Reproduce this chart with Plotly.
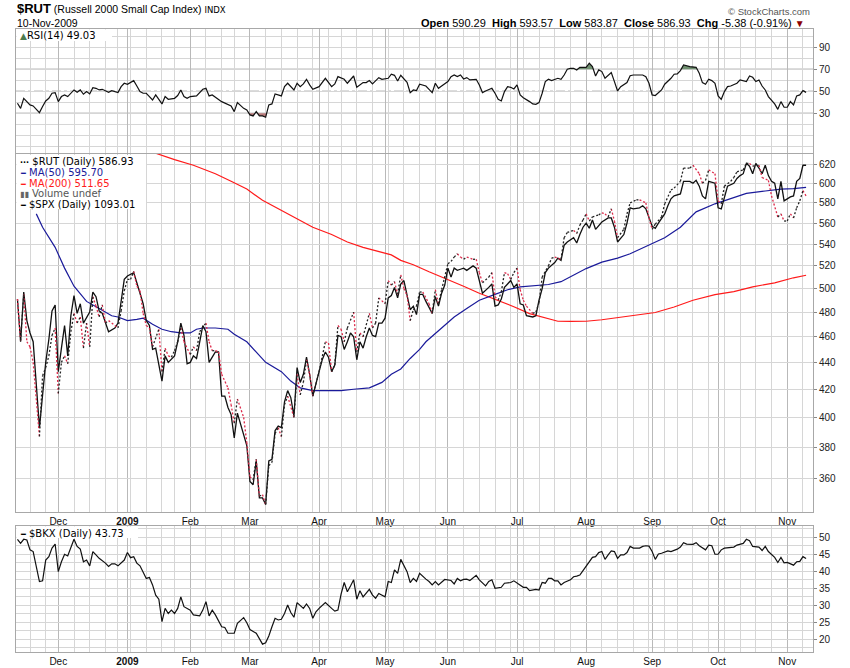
import math
import numpy as np
import pandas as pd
import plotly.graph_objects as go

# ---------------- calendar (trading days) ----------------
HOLIDAYS = ["2008-11-27", "2008-12-25", "2009-01-01", "2009-01-19", "2009-02-16",
            "2009-04-10", "2009-05-25", "2009-07-03", "2009-09-07"]
DAYS = pd.bdate_range("2008-11-11", "2009-11-10")
DAYS = DAYS[~DAYS.isin(pd.to_datetime(HOLIDAYS))]
N = len(DAYS)

MONTH_LABELS = ["Dec", "<b>2009</b>", "Feb", "Mar", "Apr", "May", "Jun", "Jul", "Aug", "Sep", "Oct", "Nov"]

# ---------------- header values ----------------
OPEN, HIGH, LOW, CLOSE, CHG, CHG_PCT = 590.29, 593.57, 583.87, 586.93, -5.38, -0.91
SPX_LAST = 1093.01

# ---------------- data (trading-day number, value) ----------------
RUT_DAY = [0,1,2,3,4,5,7,8,9,10,11,12,13,14,15,16,17,18,19,20,21,22,23,24,25,26,27,28,29,31,32,33,34,35,36,37,38,39,40,41,42,43,45,46,47,48,49,50,51,52,53,55,56,57,58,60,61,62,63,64,65,67,68,69,70,72,73,74,75,76,77,78,79,80,81,82,83,84,85,86,88,89,90,91,92,93,94,95,96,98,99,100,101,102,103,104,105,107,108,109,110,112,113,114,115,117,118,119,120,121,122,123,124,125,126,127,128,129,131,132,133,134,135,137,138,139,140,141,142,143,145,146,147,148,150,151,152,153,154,155,156,157,158,159,160,161,162,164,165,166,167,169,170,171,173,174,175,177,178,179,180,181,182,183,185,186,187,188,189,190,191,193,194,195,197,198,200,201,202,203,205,206,208,209,211,212,214,215,217,218,219,220,222,223,224,225,227,228,229,231,232,233,234,236,237,239,240,242,243,244,245,246,247,248,249,250,251]
RUT = [491,457,495,456,452,440,387,430,436,445,461,467,417,440,445,439,464,479,471,476,451,471,452,493,485,476,486,471,473,469,467,481,498,508,508,515,502,498,479,469,467,452,466,433,451,445,444,449,456,467,456,446,452,449,464,471,456,449,449,448,431,421,409,396,413,400,383,361,359,372,349,350,344,368,370,389,393,387,409,415,400,431,416,425,442,431,415,424,433,456,455,433,438,469,466,456,467,480,448,463,460,479,467,471,492,487,507,503,506,495,512,500,494,473,482,485,497,497,487,479,499,487,499,522,524,528,531,528,526,528,526,526,514,505,510,514,493,490,497,514,513,508,514,518,499,490,485,479,480,488,510,520,527,528,526,546,551,553,550,558,563,569,562,566,568,570,569,566,574,562,546,554,569,580,583,583,580,565,554,559,566,579,593,595,602,616,616,619,610,600,603,614,610,582,579,597,602,606,612,614,621,621,618,619,606,603,587,566,569,562,562,569,565,575,582,592.31,586.93]

SPX_DAY = [0,1,2,3,4,5,7,9,10,11,12,13,14,15,16,17,18,19,20,21,23,24,25,26,27,29,31,32,33,34,35,37,38,39,40,41,42,43,44,46,47,48,50,51,52,53,54,55,56,57,59,60,61,62,63,64,65,66,67,68,69,70,71,72,73,74,75,76,77,78,79,80,81,82,83,84,85,86,87,88,89,90,91,92,93,94,95,96,97,98,99,100,101,102,103,104,105,106,107,108,109,110,111,112,113,114,115,116,117,118,119,120,121,122,123,124,125,126,127,128,129,130,132,133,134,135,136,137,138,139,140,141,142,143,144,145,146,147,148,150,151,152,153,154,155,156,157,158,159,160,161,162,164,165,166,167,168,169,171,172,173,174,175,177,178,179,180,181,182,183,184,186,187,188,189,190,191,193,194,195,196,198,199,200,202,203,204,205,206,207,208,209,211,212,214,215,216,217,218,219,220,222,223,224,225,226,228,229,230,231,232,233,234,235,236,237,238,239,240,241,242,243,244,245,246,247,248,249,250,251]
SPX = [491,456,497,473,463,456,393,440,458,481,486,433,451,469,445,477,494,479,487,471,480,497,493,481,479,464,467,471,489,508,511,514,505,496,487,473,469,450,451,426,445,440,445,456,471,461,439,440,445,443,469,464,440,444,448,448,415,415,407,402,386,403,395,388,381,358,356,371,348,348,344,371,372,391,394,393,411,419,414,401,436,425,431,444,431,415,425,433,442,448,444,433,438,461,460,450,456,463,460,442,456,451,460,467,461,460,471,471,475,492,494,501,492,504,507,494,482,485,478,495,495,489,479,493,485,496,503,518,510,518,516,517,518,516,518,520,518,507,496,501,504,485,486,491,501,504,507,501,504,487,486,477,476,477,490,500,514,518,523,527,525,539,542,546,541,549,556,560,555,563,554,561,563,565,565,556,542,549,560,575,574,575,577,574,557,555,560,565,569,577,584,587,589,602,602,600,603,597,587,584,602,600,575,574,587,597,600,605,608,610,621,618,610,621,616,610,619,608,602,600,584,602,582,584,586,587,602,605,619,619]

MA50_DAY = [6,8,12,15,18,22,26,30,32,35,38,40,43,46,49,52,55,57,59,63,67,69,73,76,79,84,87,90,94,99,103,107,112,116,119,122,125,128,130,135,139,143,147,152,156,160,164,169,173,177,181,186,191,195,200,206,211,216,222,227,232,238,243,247,251]
MA50 = [569,556,537,518,502,489,483,477,476,473,474,475,470,466,464,463,463,466,467,467,466,462,456,448,440,433,426,421,419,419,419,420,421,425,431,435,443,450,456,467,476,483,490,495,499,501.5,502.3,503.5,506,512,517.6,523.4,527,531,538,546,556,571,579,584,589.6,592,594,594.5,595.70]

MA200_DAY = [44,50,56,63,68,73,78,84,89,94,100,105,110,116,119,122,126,131,137,142,147,153,158,163,169,172,176,181,186,191,196,203,209,215,222,228,234,241,247,251]
MA200 = [632,625,619,610,602,594,582.5,572.6,564,556,549,542,537,532.4,530,525,521,514.7,508,502,496,490,484.5,478.8,474.5,472.5,472.3,472.5,473.7,475.5,477,479.7,484.3,490,494.7,497.3,501.5,505,509.4,511.65]

RSI_DAY = [0,1,2,3,4,5,7,8,9,10,11,12,13,14,15,16,18,19,20,21,22,23,24,25,26,27,29,30,32,33,34,35,37,38,39,40,41,42,43,44,45,46,47,48,50,51,52,53,54,55,57,59,60,61,62,64,65,68,69,70,72,73,74,75,76,77,78,79,80,81,82,84,85,86,87,88,89,90,91,92,93,94,96,97,98,100,101,102,104,105,107,108,110,111,112,113,115,116,118,119,120,121,122,124,125,126,127,128,130,131,132,133,134,135,137,138,139,140,141,142,143,144,146,147,148,149,151,152,153,154,155,156,157,158,159,160,161,163,164,165,166,167,168,169,170,172,173,174,175,176,177,178,179,181,182,183,184,185,186,187,189,190,191,192,194,195,196,199,200,201,202,203,205,206,208,209,210,211,212,214,215,216,217,218,219,220,221,222,223,224,225,226,227,229,230,231,232,233,234,235,236,237,238,239,240,241,242,243,244,245,246,247,248,249,250,251]
RSI = [39.1,34.5,43.6,40.6,37.6,36.7,30.6,36.1,41.2,43.6,48.2,48.8,40.6,45.2,46.7,45.2,51.2,49.1,51.2,47.3,49.7,47.6,53.3,52.7,51.2,51.8,49.1,50.6,48.8,54.2,57.3,56.4,59.7,54.8,49.7,48.2,48.2,45.2,42.1,46.7,42.1,38.5,45.2,42.7,43.6,46.1,51.2,45.2,43.6,45.2,45.8,51.8,52.7,45.8,46.7,42.7,40.6,36.7,31.5,39.7,34.5,33.0,28.5,27.6,31.5,27.6,27.6,26.4,37.6,38.5,47.6,45.8,54.2,57.3,54.2,51.2,57.3,54.2,56.7,60.9,55.8,51.8,54.2,57.9,61.8,54.2,56.7,63.3,60.9,57.3,63.9,53.6,57.9,57.9,59.7,56.7,62.4,60.9,61.8,65.5,64.5,59.4,64.5,58.2,48.8,51.2,50.6,56.4,54.8,51.8,48.8,57.3,52.7,54.8,58.8,63.3,64.8,63.3,64.8,61.2,62.4,60.3,60.9,55.8,48.8,50.3,52.7,48.2,42.7,41.2,49.7,54.2,53.6,52.1,55.8,46.7,44.2,40.6,38.5,38.2,39.7,48.2,58.8,60.9,59.7,61.8,60.9,64.8,70.0,70.9,70.9,69.4,71.8,71.8,75.5,72.4,63.9,69.4,67.9,61.8,67.0,58.8,50.3,54.2,57.9,64.2,64.8,64.8,63.3,57.3,46.7,46.1,51.2,56.4,61.8,65.5,65.8,68.8,73.9,72.4,72.4,71.8,66.4,57.9,56.4,60.9,59.7,57.3,45.8,42.7,49.7,54.2,54.8,57.3,60.3,59.7,58.8,63.9,62.7,58.8,60.3,54.8,51.2,45.2,41.5,38.5,33.6,40.6,35.5,35.5,40.6,37.6,45.8,46.7,50.6,49.03]

BKX_DAY = [0,1,2,3,4,5,6,7,8,9,10,11,12,13,14,15,16,17,18,19,20,21,22,23,24,25,26,28,29,30,31,32,34,35,36,37,38,39,40,41,42,43,44,45,46,47,48,49,50,51,52,53,55,56,58,59,60,61,62,63,65,66,67,69,70,71,72,73,74,76,77,78,79,80,81,82,83,84,85,86,87,88,89,91,92,93,94,95,96,98,100,101,102,103,104,105,106,107,108,109,110,112,113,114,115,117,118,119,120,121,122,124,125,126,127,128,130,131,132,133,134,135,136,138,139,140,141,142,143,144,146,147,149,150,151,152,154,155,157,158,159,160,161,162,163,165,166,167,168,169,170,171,172,173,174,176,177,178,179,180,181,182,183,184,185,186,187,188,189,190,191,192,193,194,195,196,198,199,200,201,202,203,204,205,207,208,209,210,211,212,213,215,216,217,219,220,221,222,223,224,225,227,228,229,230,231,232,233,234,236,237,238,239,240,241,242,243,244,245,247,248,249,250,251]
BKX = [49.4,48.2,49.4,49.2,46.3,45.8,41.4,37.0,37.2,43.3,44.3,46.8,48.0,39.9,42.8,45.0,44.5,46.8,49.4,47.3,46.5,42.8,43.3,41.6,45.8,44.8,43.8,42.4,41.4,42.2,42.2,41.6,43.3,45.5,44.0,44.3,42.4,41.6,39.9,37.9,38.2,36.0,33.0,31.8,25.2,29.1,27.6,28.6,27.6,29.1,32.5,29.6,28.6,27.2,26.9,28.6,31.1,26.9,28.6,27.2,23.7,23.5,21.8,21.8,24.7,25.5,26.4,24.9,22.9,21.8,20.3,18.6,19.0,21.0,23.7,26.2,25.7,25.9,27.6,30.1,27.9,26.5,30.8,29.1,30.4,29.1,26.2,28.1,29.1,30.8,29.1,28.3,28.6,33.3,36.7,34.0,35.7,37.5,31.8,34.3,32.5,34.7,33.0,32.1,33.5,32.5,37.0,36.7,40.4,39.4,43.5,39.9,36.7,37.9,37.0,39.4,37.7,37.0,36.0,37.0,36.0,36.7,37.6,37.3,36.3,37.9,37.2,37.6,37.7,37.3,38.8,37.5,35.7,37.0,37.5,35.0,35.3,36.5,36.7,37.2,36.5,35.8,35.3,35.3,34.3,34.7,34.5,36.7,36.5,37.9,37.9,37.2,37.2,36.0,36.7,37.5,38.4,38.6,38.9,40.2,41.6,42.8,44.1,44.3,45.5,45.8,43.5,44.8,46.0,45.8,43.8,44.8,44.8,45.5,47.3,46.8,46.8,47.3,47.5,47.4,45.8,43.5,45.1,45.3,46.0,45.8,46.1,46.5,47.1,48.4,48.0,47.9,48.4,47.5,46.3,47.7,47.5,45.0,45.0,46.3,46.8,47.0,47.1,47.7,48.0,48.2,49.4,49.0,47.3,47.1,46.1,47.3,45.8,44.8,44.1,42.6,44.1,42.5,42.6,41.8,42.8,42.9,44.3,43.73]

MAIN_TICKS = list(range(360, 621, 20))
RSI_TICKS = [30, 50, 70, 90]
BKX_TICKS = [20, 25, 30, 35, 40, 45, 50]

# ---------------- geometry helpers (pixel layout) ----------------
W, H = 850, 668
def px(x): return x / W
def py(y): return 1 - y / H

X0, X1 = 16, 813
XR = [-0.46, 253.2]

ym = DAYS.to_period("M")
month_idx = [i for i in range(1, N) if ym[i] != ym[i - 1]]
week_idx = [i for i in range(1, N) if DAYS[i].weekday() < DAYS[i - 1].weekday()]

GRID = "#d6d6d6"
MGRID = "#b9b9b9"
BORDER = "#a8a8a8"
TICKFONT = dict(family="Arial, Liberation Sans", size=10, color="#222")

fig = go.Figure()

# ---------------- RSI panel ----------------
def clip_poly(xs, ys, level, above):
    qx, qy = [], []
    for k in range(len(xs)):
        if k > 0:
            y0, y1 = ys[k - 1], ys[k]
            if (y0 - level) * (y1 - level) < 0:
                t = (level - y0) / (y1 - y0)
                qx.append(xs[k - 1] + t * (xs[k] - xs[k - 1])); qy.append(level)
        v = ys[k]
        qx.append(xs[k]); qy.append(max(v, level) if above else min(v, level))
    qx = qx + [qx[-1], qx[0]]
    qy = qy + [level, level]
    return qx, qy

ax, ay = clip_poly(RSI_DAY, RSI, 70, True)
fig.add_trace(go.Scatter(x=ax, y=ay, fill="toself", fillcolor="#6f8f6f", line=dict(width=0),
                         mode="lines", hoverinfo="skip", xaxis="x", yaxis="y", showlegend=False))
bx, by = clip_poly(RSI_DAY, RSI, 30, False)
fig.add_trace(go.Scatter(x=bx, y=by, fill="toself", fillcolor="#b77a7a", line=dict(width=0),
                         mode="lines", hoverinfo="skip", xaxis="x", yaxis="y", showlegend=False))
fig.add_trace(go.Scatter(x=RSI_DAY, y=RSI, mode="lines", line=dict(color="#111", width=1.2),
                         xaxis="x", yaxis="y", showlegend=False))

# ---------------- main panel ----------------
fig.add_trace(go.Scatter(x=MA200_DAY, y=MA200, mode="lines", line=dict(color="#ff1a1a", width=1.2),
                         xaxis="x2", yaxis="y2", showlegend=False))
fig.add_trace(go.Scatter(x=MA50_DAY, y=MA50, mode="lines", line=dict(color="#1a1a9a", width=1.2),
                         xaxis="x2", yaxis="y2", showlegend=False))
fig.add_trace(go.Scatter(x=SPX_DAY, y=SPX, mode="lines", line=dict(color="#111", width=1.3),
                         xaxis="x2", yaxis="y2", showlegend=False))

upx, upy, dnx, dny = [], [], [], []
for k in range(1, len(RUT_DAY)):
    tx, ty = (upx, upy) if RUT[k] >= RUT[k - 1] else (dnx, dny)
    tx += [RUT_DAY[k - 1], RUT_DAY[k], None]
    ty += [RUT[k - 1], RUT[k], None]
fig.add_trace(go.Scatter(x=dnx, y=dny, mode="lines", line=dict(color="#dd2a4a", width=1.3, dash="2px,2px"),
                         xaxis="x2", yaxis="y2", showlegend=False, connectgaps=False))
fig.add_trace(go.Scatter(x=upx, y=upy, mode="lines", line=dict(color="#222", width=1.3, dash="2px,2px"),
                         xaxis="x2", yaxis="y2", showlegend=False, connectgaps=False))

# ---------------- BKX panel ----------------
fig.add_trace(go.Scatter(x=BKX_DAY, y=BKX, mode="lines", line=dict(color="#111", width=1.2),
                         xaxis="x3", yaxis="y3", showlegend=False))

# ---------------- axes ----------------
def xaxis(anchor, labels, match=None, side="bottom", mirror=True):
    d = dict(domain=[px(X0), px(X1)], range=XR, anchor=anchor, side=side,
             tickmode="array", tickvals=month_idx, ticktext=MONTH_LABELS,
             showticklabels=labels, tickfont=dict(family="Arial, Liberation Sans", size=10, color="#111"),
             showgrid=True, gridcolor=MGRID, gridwidth=1, zeroline=False,
             showline=True, linecolor=BORDER, mirror=mirror, ticks="",
             minor=dict(tickvals=week_idx, showgrid=True, gridcolor=GRID, gridwidth=1, ticks=""))
    if match:
        d["matches"] = match
    return d

main_lo = 620 * 10 ** (-(512 - 164.3) / 1330)
main_hi = 620 * 10 ** ((164.3 - 154) / 1330)

fig.update_layout(
    width=W, height=H, margin=dict(l=0, r=0, t=0, b=0),
    paper_bgcolor="white", plot_bgcolor="white",
    xaxis=xaxis("y", False, side="top", mirror=False),
    xaxis2=xaxis("y2", True, "x"),
    xaxis3=xaxis("y3", True, "x"),
    yaxis=dict(domain=[py(154), py(29)], range=[-7.0, 106.6], side="right",
               tickmode="array", tickvals=RSI_TICKS, ticktext=[str(v) for v in RSI_TICKS],
               tickfont=TICKFONT, ticks="outside", ticklen=3, tickcolor="#888",
               showgrid=False, zeroline=False, showline=True, linecolor=BORDER, mirror=True,
               minor=dict(tickvals=list(range(0, 101, 10)), showgrid=True, gridcolor=GRID, ticks="")),
    yaxis2=dict(domain=[py(512), py(154)], type="log", range=[math.log10(main_lo), math.log10(main_hi)],
                side="right", tickmode="array", tickvals=MAIN_TICKS, ticktext=[str(v) for v in MAIN_TICKS],
                tickfont=TICKFONT, ticks="outside", ticklen=3, tickcolor="#888",
                showgrid=True, gridcolor=GRID, zeroline=False, showline=True, linecolor=BORDER, mirror=True),
    yaxis3=dict(domain=[py(652), py(526)], range=[16.3, 53.3], side="right",
                tickmode="array", tickvals=BKX_TICKS, ticktext=[str(v) for v in BKX_TICKS],
                tickfont=TICKFONT, ticks="outside", ticklen=3, tickcolor="#888",
                showgrid=True, gridcolor=GRID, zeroline=False, showline=True, linecolor=BORDER, mirror=True,
                minor=dict(dtick=2.5, showgrid=True, gridcolor=GRID, ticks="")),
)

# RSI reference lines
shapes = []
for lvl, dash in [(70, "solid"), (30, "solid"), (50, "dashdot")]:
    shapes.append(dict(type="line", xref="x domain", yref="y", x0=0, x1=1, y0=lvl, y1=lvl,
                       line=dict(color="#6a6a6a", width=1, dash=dash), layer="below"))
# white label boxes
shapes.append(dict(type="rect", xref="paper", yref="paper", x0=px(16.5), x1=px(146), y0=py(209), y1=py(155),
                   fillcolor="white", line=dict(width=0), layer="above"))
shapes.append(dict(type="rect", xref="paper", yref="paper", x0=px(16.5), x1=px(112), y0=py(41), y1=py(29.5),
                   fillcolor="white", line=dict(width=0), layer="above"))
shapes.append(dict(type="rect", xref="paper", yref="paper", x0=px(16.5), x1=px(138), y0=py(538), y1=py(526.5),
                   fillcolor="white", line=dict(width=0), layer="above"))
fig.update_layout(shapes=shapes)

# ---------------- text ----------------
LEG = dict(family="DejaVu Sans", size=10)
ann = []
def add(text, x, y, xanchor="left", font=None, color="#000"):
    f = dict(font or LEG); f["color"] = color
    ann.append(dict(text=text, x=px(x), y=py(y), xref="paper", yref="paper", xanchor=xanchor,
                    yanchor="middle", showarrow=False, font=f))

add("<span style='font-size:13px'><b>$RUT</b></span> (Russell 2000 Small Cap Index) "
    "<span style='font-family:DejaVu Sans;font-size:8.5px'>INDX</span>", 15, 8.5,
    font=dict(family="Arial, Liberation Sans", size=10.5))
add("10-Nov-2009", 15, 23.5, font=dict(family="Arial, Liberation Sans", size=10.5))
add("© StockCharts.com", 812, 11, xanchor="right", font=dict(family="Arial, Liberation Sans", size=9.5), color="#555")
sp = "\u00a0\u00a0"
add(f"<b>Open</b> {OPEN:.2f}{sp}<b>High</b> {HIGH:.2f}{sp}<b>Low</b> {LOW:.2f}{sp}<b>Close</b> {CLOSE:.2f}{sp}"
    f"<b>Chg</b> {CHG:.2f} ({CHG_PCT:.2f}%) <span style='color:#8b0000;font-size:10px'>▼</span>",
    807, 23, xanchor="right", font=dict(family="Arial, Liberation Sans", size=11))

add(f"<span style='color:#4d7a4d;font-size:9px'>▲</span>RSI(14) {RSI[-1]:.2f}", 18, 35.5)

rows = [("···", "#000", f"$RUT (Daily) {RUT[-1]:.2f}", "#000", 161.7),
        ("━", "#1a1a9a", f"MA(50) {MA50[-1]:.2f}", "#1a1a9a", 172.6),
        ("━", "#ff1a1a", f"MA(200) {MA200[-1]:.2f}", "#ff1a1a", 183.3),
        ("▮▮", "#666", "Volume undef", "#555", 193.6),
        ("━", "#000", f"$SPX (Daily) {SPX_LAST:.2f}", "#000", 204.0)]
for icon, ic, label, lc, y in rows:
    add(f"<span style='color:{ic};font-size:8px'><b>{icon}</b></span> {label}", 18, y, color=lc)

add(f"<span style='font-size:8px'>━</span> $BKX (Daily) {BKX[-1]:.2f}", 18, 533)

fig.update_layout(annotations=ann)

fig.write_html("out.html")
